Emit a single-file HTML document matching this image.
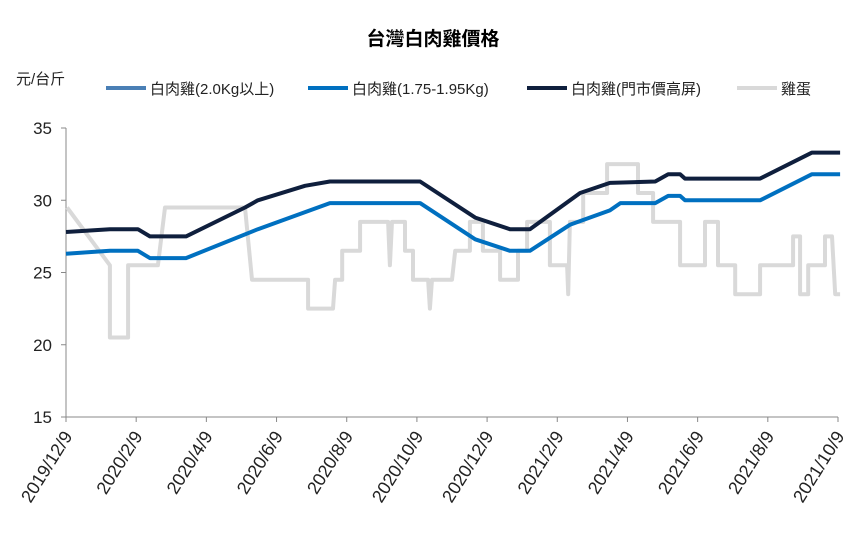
<!DOCTYPE html>
<html><head><meta charset="utf-8"><style>
body{margin:0;background:#fff;}
svg text{font-family:"Liberation Sans","Noto Sans CJK TC",sans-serif;}
</style></head><body>
<svg width="866" height="535" viewBox="0 0 866 535">
<text x="433" y="45" text-anchor="middle" font-size="19" font-weight="bold" fill="#000">台灣白肉雞價格</text>
<text x="16" y="84" font-size="15" fill="#222">元/台斤</text>
<g font-size="15" fill="#222">
<g><line x1="106" y1="88" x2="146" y2="88" stroke="#4a7fb5" stroke-width="4"/><text x="150" y="94">白肉雞(2.0Kg以上)</text></g>
<g><line x1="308" y1="88" x2="348" y2="88" stroke="#0070c0" stroke-width="4"/><text x="352" y="94">白肉雞(1.75-1.95Kg)</text></g>
<g><line x1="527" y1="88" x2="567" y2="88" stroke="#0f1f3d" stroke-width="4"/><text x="571" y="94">白肉雞(門市價高屏)</text></g>
<g><line x1="737" y1="88" x2="777" y2="88" stroke="#d9d9d9" stroke-width="4"/><text x="781" y="94">雞蛋</text></g>
</g>
<g id="axes"></g>
<g id="series"></g>
</svg>
<script>
const xTickLabels=["2019/12/9","2020/2/9","2020/4/9","2020/6/9","2020/8/9","2020/10/9","2020/12/9","2021/2/9","2021/4/9","2021/6/9","2021/8/9","2021/10/9"];
const yTicks=[15,20,25,30,35];
const blackT=[0,1.25,2.05,2.39,3.42,5.1,5.47,6.81,7.52,10.09,11.66,12.65,13.22,14.65,15.5,16.79,17.16,17.5,17.64,19.78,21.26,22.06];
const blackV=[27.8,28,28,27.5,27.5,29.5,30,31,31.3,31.3,28.8,28,28,30.5,31.2,31.3,31.8,31.8,31.5,31.5,33.3,33.3];
const blueT=[0,1.25,2.05,2.39,3.42,5.47,7.52,10.09,11.66,12.65,13.22,14.36,15.5,15.8,16.79,17.16,17.5,17.64,19.78,21.26,22.06];
const blueV=[26.3,26.5,26.5,26,26,28,29.8,29.8,27.3,26.5,26.5,28.3,29.3,29.8,29.8,30.3,30.3,30,30,31.8,31.8];
const eggT=[0.03,1.25,1.25,1.77,1.77,2.62,2.82,5.1,5.3,6.9,6.9,7.61,7.67,7.87,7.87,8.38,8.38,9.18,9.23,9.29,9.66,9.66,9.89,9.89,10.32,10.37,10.43,11.0,11.09,11.51,11.51,11.88,11.88,12.37,12.37,12.88,12.88,13.14,13.14,13.79,13.79,14.28,14.31,14.36,14.74,14.74,15.42,15.42,16.3,16.3,16.73,16.73,17.5,17.5,18.21,18.21,18.58,18.58,19.07,19.07,19.78,19.78,20.72,20.72,20.92,20.92,21.15,21.15,21.63,21.63,21.83,21.92,22.06];
const eggV=[29.5,25.5,20.5,20.5,25.5,25.5,29.5,29.5,24.5,24.5,22.5,22.5,24.5,24.5,26.5,26.5,28.5,28.5,25.5,28.5,28.5,26.5,26.5,24.5,24.5,22.5,24.5,24.5,26.5,26.5,28.5,28.5,26.5,26.5,24.5,24.5,26.5,26.5,28.5,28.5,25.5,25.5,23.5,28.5,28.5,30.5,30.5,32.5,32.5,30.5,30.5,28.5,28.5,25.5,25.5,28.5,28.5,25.5,25.5,23.5,23.5,25.5,25.5,27.5,27.5,23.5,23.5,25.5,25.5,27.5,27.5,23.5,23.5];
const X0=66,X1=838,Y0=417,Y1=128,TMAX=22,VMIN=15,VMAX=35;
const xs=t=>X0+(X1-X0)*t/TMAX;
const ys=v=>Y0-(Y0-Y1)*(v-VMIN)/(VMAX-VMIN);
const NS="http://www.w3.org/2000/svg";
const axes=document.getElementById('axes');
const ser=document.getElementById('series');
function mk(tag,attrs,parent){const e=document.createElementNS(NS,tag);for(const k in attrs)e.setAttribute(k,attrs[k]);parent.appendChild(e);return e;}
const ya=mk('line',{x1:X0,y1:Y1,x2:X0,y2:Y0,stroke:'#888','stroke-width':1},axes);


const xa=mk('line',{x1:X0,y1:Y0,x2:X1,y2:Y0,stroke:'#888','stroke-width':1},axes);


yTicks.forEach(v=>{
  const y=ys(v);
  mk('line',{x1:X0-5,y1:y,x2:X0,y2:y,stroke:'#888'},axes);
  const t=mk('text',{x:X0-14,y:y+6,'text-anchor':'end','font-size':17,fill:'#222'},axes);
  t.textContent=v;
  
  
});
xTickLabels.forEach((lab,i)=>{
  const x=xs(i*2);
  mk('line',{x1:x,y1:Y0,x2:x,y2:Y0+5,stroke:'#888'},axes);
  const ax=x+7, ay=Y0+19;
  const t=mk('text',{x:ax,y:ay,'text-anchor':'end','font-size':18,fill:'#222',transform:`rotate(-58 ${ax} ${ay})`},axes);
  t.textContent=lab;
  
  
});
function line(T,V,color,name){
  const pts=T.map((t,i)=>xs(t).toFixed(1)+','+ys(V[i]).toFixed(1)).join(' ');
  const p=mk('polyline',{points:pts,fill:'none',stroke:color,'stroke-width':4,'stroke-linejoin':'round'},ser);
  
  
}
line(eggT,eggV,'#d9d9d9','egg-line');
line(blueT,blueV,'#0070c0','chicken-175-line');
line(blackT,blackV,'#0f1f3d','chicken-gate-line');
</script>
</body></html>
